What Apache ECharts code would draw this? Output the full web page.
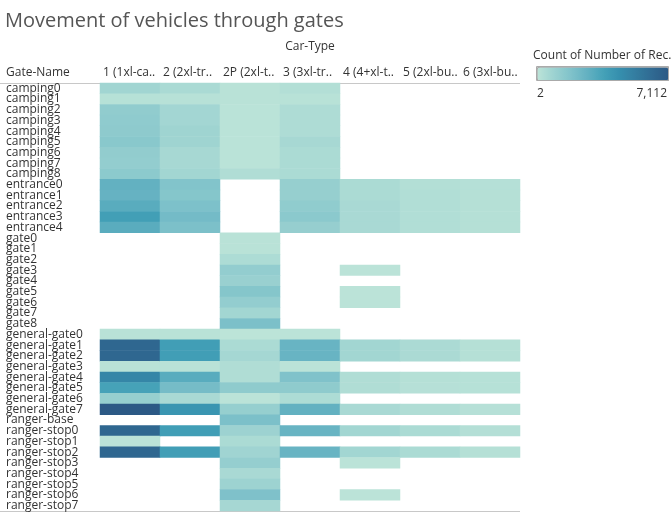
<!DOCTYPE html>
<html>
<head>
<meta charset="utf-8">
<script src="https://cdn.jsdelivr.net/npm/echarts@6/dist/echarts.min.js"></script>
<style>html,body{margin:0;padding:0;background:#fff}#c{width:672px;height:512px}</style>
</head>
<body>
<div id="c"></div>
<script>
var gateNames = ['camping0','camping1','camping2','camping3','camping4','camping5','camping6','camping7','camping8',
  'entrance0','entrance1','entrance2','entrance3','entrance4',
  'gate0','gate1','gate2','gate3','gate4','gate5','gate6','gate7','gate8',
  'general-gate0','general-gate1','general-gate2','general-gate3','general-gate4','general-gate5','general-gate6','general-gate7',
  'ranger-base','ranger-stop0','ranger-stop1','ranger-stop2','ranger-stop3','ranger-stop4','ranger-stop5','ranger-stop6','ranger-stop7'];
var carTypes = ['1 (1xl-ca..','2 (2xl-tr..','2P (2xl-t..','3 (3xl-tr..','4 (4+xl-t..','5 (2xl-bu..','6 (3xl-bu..'];
var N = null;
var type1  = [750,150,1240,1300,1350,1500,1220,1180,1400, 2700,2620,3000,3700,2980, N,N,N,N,N,N,N,N,N, 80,6350,6350,80,4860,3550,1080,7112, N, 6350,40,6350,N,N,N,N,N];
var type2  = [500,140,680,680,820,820,570,570,710, 1720,1620,1890,2200,1940, N,N,N,N,N,N,N,N,N, 80,3760,3760,80,2990,2130,520,4160, N, 3760,N,3720,N,N,N,N,N];
var type2P = [80,80,50,50,50,50,50,60,330, N,N,N,N,N, 80,80,400,1180,1000,1620,1180,720,1920, 10,450,640,330,330,1320,40,1080, 1920, 890,450,790,1110,520,860,1850,620];
var type3  = [250,100,380,380,380,570,450,450,450, 1080,1080,1280,1430,1100, N,N,N,N,N,N,N,N,N, 40,2550,2550,40,1810,1320,400,2700, N, 2550,N,2550,N,N,N,N,N];
var type4  = [N,N,N,N,N,N,N,N,N, 450,450,520,520,520, N,N,N,40,N,40,40,N,N, N,720,720,N,330,330,N,520, N, 720,N,720,40,N,N,40,N];
var type5  = [N,N,N,N,N,N,N,N,N, 250,300,300,300,300, N,N,N,N,N,N,N,N,N, N,470,470,N,200,170,N,330, N, 450,N,450,N,N,N,N,N];
var type6  = [N,N,N,N,N,N,N,N,N, 180,200,200,200,200, N,N,N,N,N,N,N,N,N, N,200,200,N,150,150,N,170, N, 220,N,200,N,N,N,N,N];
var legendMin = 2, legendMax = 7112;
var blueTeal = ['#bce4d8','#aedcd5','#a1d5d2','#95cecf','#89c8cc','#7ec1ca','#72bac6','#66b2c2','#59acbe','#4ba5ba',
  '#419eb6','#3b96b2','#358ead','#3586a7','#347ea1','#32779b','#316f96','#2f6790','#2d608a','#2c5985'];

var columns = [type1, type2, type2P, type3, type4, type5, type6];
var data = [];
columns.forEach(function (col, xi) {
  col.forEach(function (v, yi) { if (v !== null) data.push([xi, yi, v]); });
});

var FONT = 'Open Sans';
var chart = echarts.init(document.getElementById('c'));
chart.setOption({
  animation: false,
  textStyle: { fontFamily: FONT },
  title: [
    { text: 'Movement of vehicles through gates', left: 0, top: 6,
      textStyle: { fontFamily: FONT, fontSize: 20, fontWeight: 'normal', color: '#555' } },
    { text: 'Gate-Name', left: 1, top: 62,
      textStyle: { fontFamily: FONT, fontSize: 12, fontWeight: 'normal', color: '#333' } },
    { text: 'Count of Number of Rec..', left: 528, top: 45,
      textStyle: { fontFamily: FONT, fontSize: 12, fontWeight: 'normal', color: '#333' } },
    { text: String(legendMin), left: 532, top: 83,
      textStyle: { fontFamily: FONT, fontSize: 12, fontWeight: 'normal', color: '#333' } },
    { text: legendMax.toLocaleString('en-US'), right: 0, top: 83,
      textStyle: { fontFamily: FONT, fontSize: 12, fontWeight: 'normal', color: '#333' } }
  ],
  grid: { left: 100, top: 83, width: 420, height: 428 },
  xAxis: {
    type: 'category', data: carTypes, position: 'top',
    name: 'Car-Type', nameLocation: 'middle', nameGap: 30,
    nameTextStyle: { fontFamily: FONT, fontSize: 12, color: '#333' },
    axisLine: { show: false }, axisTick: { show: false }, splitLine: { show: false },
    axisLabel: {
      margin: 4, fontSize: 12, color: '#333', interval: 0,
      formatter: function (v) { return '{a|' + v + '}'; },
      rich: { a: { width: 54, align: 'left', fontFamily: FONT, fontSize: 12, color: '#333' } }
    }
  },
  yAxis: {
    type: 'category', data: gateNames, inverse: true,
    axisLine: { show: false }, axisTick: { show: false }, splitLine: { show: false },
    axisLabel: { align: 'left', margin: 94, interval: 0, fontSize: 12, color: '#333', lineHeight: 11 }
  },
  visualMap: {
    type: 'continuous', min: legendMin, max: legendMax, dimension: 2,
    orient: 'horizontal', left: 537, top: 67, itemWidth: 13, itemHeight: 131,
    calculable: false, text: null, padding: 0, borderColor: '#aaa', borderWidth: 1,
    inRange: { color: blueTeal }
  },
  graphic: [
    { type: 'line', shape: { x1: 0, y1: 83.5, x2: 520, y2: 83.5 }, style: { stroke: '#c8c8c8', lineWidth: 1 } },
    { type: 'line', shape: { x1: 0, y1: 511.5, x2: 520, y2: 511.5 }, style: { stroke: '#c8c8c8', lineWidth: 1 } },
    { type: 'rect', shape: { x: 536.5, y: 66.5, width: 132, height: 14 }, style: { fill: null, stroke: '#aaa', lineWidth: 1 }, z: 100 }
  ],
  series: [{
    type: 'heatmap', data: data,
    itemStyle: { borderWidth: 0 },
    emphasis: { disabled: true }
  }]
});
</script>
</body>
</html>
